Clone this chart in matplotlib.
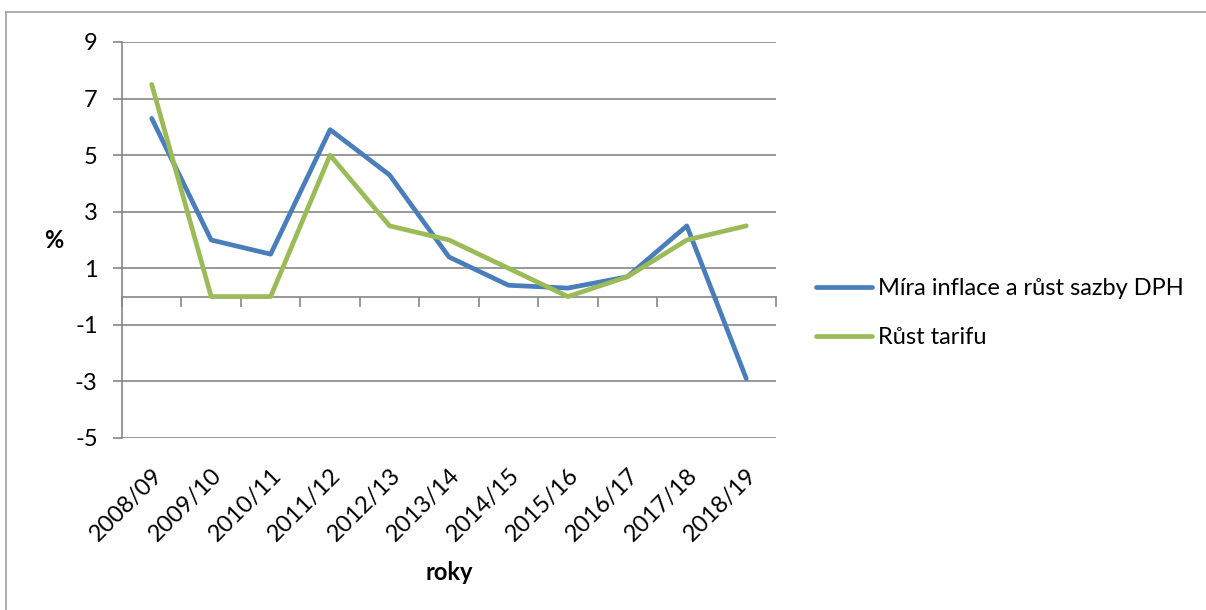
import matplotlib
matplotlib.use("Agg")
import matplotlib.pyplot as plt
from matplotlib.lines import Line2D
import numpy as np

categories = ["2008/09", "2009/10", "2010/11", "2011/12", "2012/13", "2013/14",
              "2014/15", "2015/16", "2016/17", "2017/18", "2018/19"]
inflace = [6.3, 2.0, 1.5, 5.9, 4.3, 1.4, 0.4, 0.3, 0.7, 2.5, -2.9]
tarif = [7.5, 0.0, 0.0, 5.0, 2.5, 2.0, 1.0, 0.0, 0.7, 2.0, 2.5]
series_names = ["Míra inflace a růst sazby DPH", "Růst tarifu"]
yticks = [-5, -3, -1, 1, 3, 5, 7, 9]

plt.rcParams['font.family'] = ['Lato', 'DejaVu Sans']
FS = 17

W, H = 1206, 610
fig = plt.figure(figsize=(W / 100, H / 100), dpi=100)
ax = fig.add_axes([122 / W, 1 - 438 / H, (776 - 122) / W, (438 - 42) / H])

x = np.arange(len(categories))
grid_c = "#868686"
ax.plot(x, inflace, color="#4a7ebb", lw=3.4, solid_capstyle="round", label=series_names[0], zorder=3)
ax.plot(x, tarif, color="#9bbb59", lw=3.4, solid_capstyle="round", label=series_names[1], zorder=3)

ax.set_xlim(-0.5, len(categories) - 0.5)
ax.set_ylim(-5, 9)
ax.set_yticks(yticks)
ax.set_yticklabels([str(v) for v in yticks], fontsize=FS)
for v in yticks:
    ax.axhline(v, color=grid_c, lw=1.2, zorder=1)

for s in ["top", "right", "bottom"]:
    ax.spines[s].set_visible(False)
ax.spines["left"].set_color(grid_c)
ax.spines["left"].set_linewidth(1.2)
ax.tick_params(axis="y", direction="out", length=6.5, width=1.2, color=grid_c, pad=11)

ax.set_xticks(x)
ax.set_xticklabels(categories, rotation=45, ha="right", rotation_mode="anchor", fontsize=FS)
ax.tick_params(axis="x", length=0, pad=19)

# axis line at zero with category boundary ticks
sec = ax.secondary_xaxis(5 / 14)
sec.set_xticks(np.arange(len(categories) + 1) - 0.5)
sec.set_xticklabels([])
sec.tick_params(direction="out", length=7, width=1.2, color=grid_c)
sec.spines["bottom"].set_color(grid_c)
sec.spines["bottom"].set_linewidth(1.2)

fig.text(54 / W, 1 - 241 / H, "%", fontsize=FS, fontweight="bold", ha="center", va="center")
fig.text(449 / W, 1 - 572 / H, "roky", fontsize=FS, fontweight="bold", ha="center", va="center")

leg = ax.legend(loc="center left", bbox_to_anchor=(795 / W, 1 - 313 / H), bbox_transform=fig.transFigure,
                frameon=False, fontsize=FS, handlelength=2.35, handletextpad=0.25, labelspacing=1.2)

fig.add_artist(Line2D([6 / W, 6 / W], [0, 1 - 12 / H], transform=fig.transFigure, color="#a0a0a0", lw=1.2))
fig.add_artist(Line2D([6 / W, 1], [1 - 12 / H, 1 - 12 / H], transform=fig.transFigure, color="#a0a0a0", lw=1.2))

fig.savefig("out.png", dpi=100)
